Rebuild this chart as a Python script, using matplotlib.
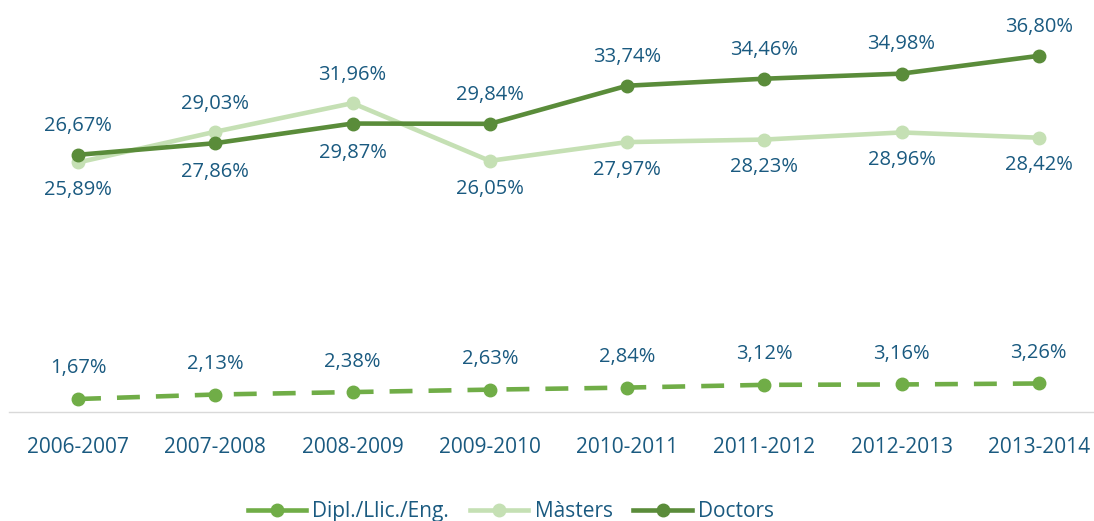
import matplotlib.pyplot as plt
from matplotlib.lines import Line2D

# course years and percentages
years = ['2006-2007', '2007-2008', '2008-2009', '2009-2010',
         '2010-2011', '2011-2012', '2012-2013', '2013-2014']
dipl = [1.67, 2.13, 2.38, 2.63, 2.84, 3.12, 3.16, 3.26]
masters = [25.89, 29.03, 31.96, 26.05, 27.97, 28.23, 28.96, 28.42]
doctors = [26.67, 27.86, 29.87, 29.84, 33.74, 34.46, 34.98, 36.80]

# label above (+1) or below (-1) each point
masters_side = [-1, 1, 1, -1, -1, -1, -1, -1]
doctors_side = [1, -1, -1, 1, 1, 1, 1, 1]

c_dipl = '#70ad47'
c_mast = '#c5e0b4'
c_doc = '#5a8c3a'
c_text = '#1a5a80'

plt.rcParams['font.family'] = ['Open Sans', 'DejaVu Sans']

fig = plt.figure(figsize=(10.94, 5.21), dpi=100)
ax = fig.add_axes([9.4 / 1094, 0.2092, 1098 / 1094, 0.7436])

x = list(range(len(years)))

ax.plot(x, dipl, color=c_dipl, lw=3.3, marker='o', ms=9, dashes=(5, 3.5))
ax.plot(x, masters, color=c_mast, lw=3.3, marker='o', ms=9)
ax.plot(x, doctors, color=c_doc, lw=3.3, marker='o', ms=9)


def fmt(v):
    return f'{v:.2f}'.replace('.', ',') + '%'


for i, v in enumerate(dipl):
    ax.annotate(fmt(v), (i, v), xytext=(0, 22), textcoords='offset points',
                ha='center', va='center', color=c_text, fontsize=14.5)
for i, v in enumerate(masters):
    ax.annotate(fmt(v), (i, v), xytext=(0, 20 * masters_side[i]),
                textcoords='offset points', ha='center', va='center',
                color=c_text, fontsize=14.5)
for i, v in enumerate(doctors):
    ax.annotate(fmt(v), (i, v), xytext=(0, 21 * doctors_side[i]),
                textcoords='offset points', ha='center', va='center',
                color=c_text, fontsize=14.5)

ax.set_xlim(-0.5, 7.5)
ax.set_ylim(0.34, 40)
ax.set_xticks(x)
ax.set_xticklabels(years, color=c_text, fontsize=15)
ax.tick_params(axis='x', length=0, pad=18)
ax.set_yticks([])
for s in ['top', 'right', 'left']:
    ax.spines[s].set_visible(False)
ax.spines['bottom'].set_color('#d9d9d9')
ax.spines['bottom'].set_linewidth(1)

handles = [
    Line2D([], [], color=c_dipl, lw=3.3, marker='o', ms=9),
    Line2D([], [], color=c_mast, lw=3.3, marker='o', ms=9),
    Line2D([], [], color=c_doc, lw=3.3, marker='o', ms=9),
]
leg = fig.legend(handles, ['Dipl./Llic./Eng.', 'Màsters', 'Doctors'],
                 loc='center', bbox_to_anchor=(0.467, 0.018), ncol=3,
                 frameon=False, fontsize=15, handlelength=2.8,
                 handletextpad=0.3, columnspacing=1.0)
for t in leg.get_texts():
    t.set_color(c_text)

fig.savefig('out.png', dpi=100)
